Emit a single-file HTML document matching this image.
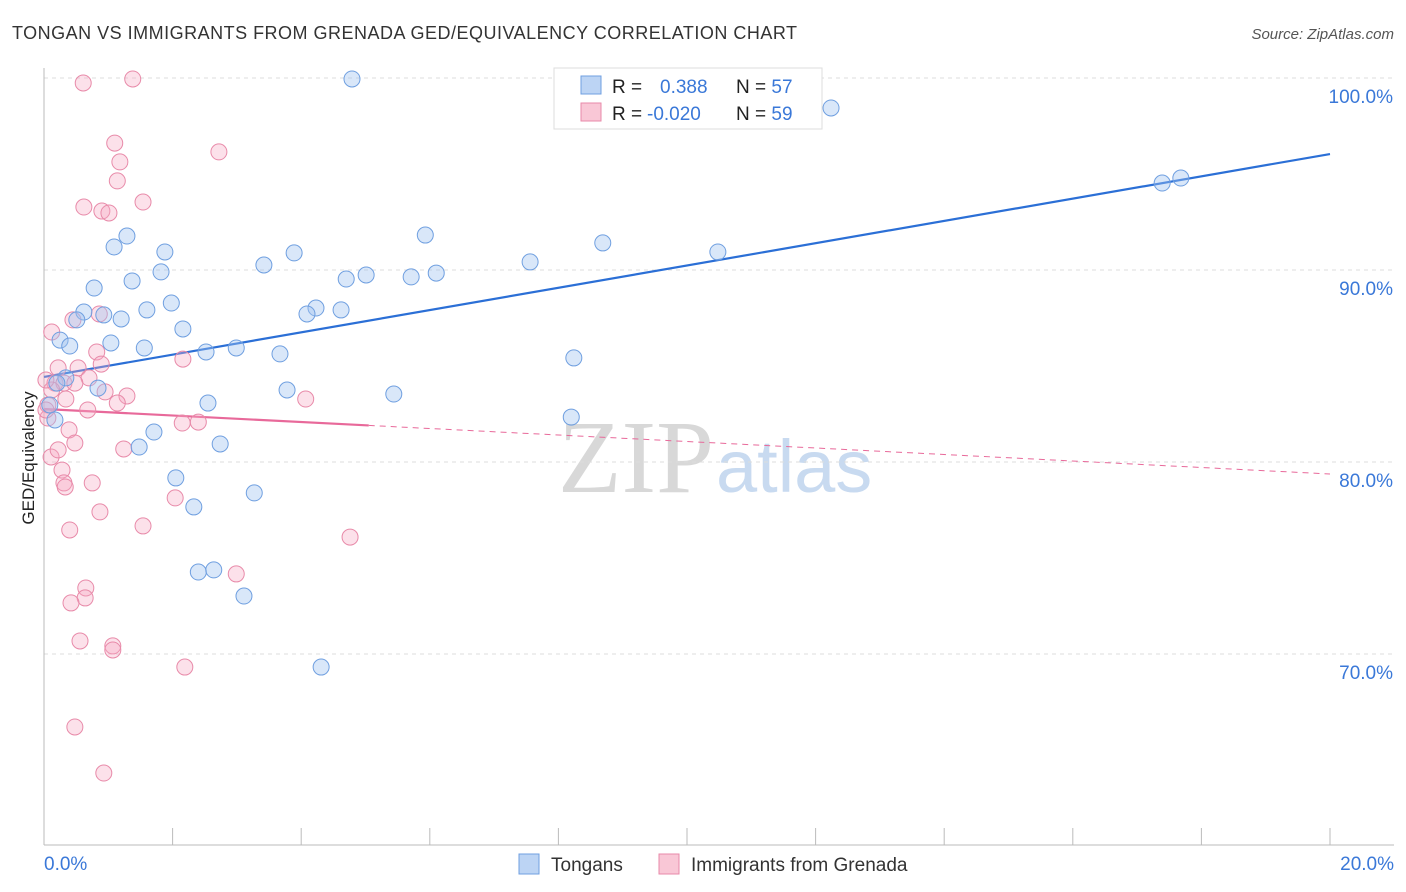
<!DOCTYPE html>
<html><head><meta charset="utf-8"><style>
body{margin:0;background:#fff;font-family:"Liberation Sans",sans-serif}
svg{display:block}
</style></head><body>
<svg width="1406" height="892" xmlns="http://www.w3.org/2000/svg">
<text x="12" y="39" font-size="18" fill="#333" textLength="785">TONGAN VS IMMIGRANTS FROM GRENADA GED/EQUIVALENCY CORRELATION CHART</text>
<text x="1394" y="39" font-size="15" fill="#555" font-style="italic" text-anchor="end">Source: ZipAtlas.com</text>
<text x="714" y="492" font-size="104" fill="#d8d8d8" text-anchor="end" font-family="Liberation Serif,serif">ZIP</text>
<text x="716" y="492" font-size="74" fill="#c8daf0">atlas</text>
<g id="grid"></g><g id="axes"></g><g id="lines"></g><g id="pts"></g>
<text transform="translate(34,458) rotate(-90)" font-size="17" fill="#222" text-anchor="middle">GED/Equivalency</text>
<g>
<rect x="554" y="68" width="268" height="61" fill="#fff" stroke="#ddd"/>
<rect x="581" y="76" width="20" height="18" fill="#bcd4f4" stroke="#6f9fe0"/>
<rect x="581" y="103" width="20" height="18" fill="#f9c7d6" stroke="#e88aa9"/>
<text x="612" y="93" font-size="19" fill="#222">R = <tspan fill="#3a78d8" x="660">0.388</tspan><tspan x="736" fill="#222">N = </tspan><tspan fill="#3a78d8">57</tspan></text>
<text x="612" y="120" font-size="19" fill="#222">R = <tspan fill="#3a78d8" x="647">-0.020</tspan><tspan x="736" fill="#222">N = </tspan><tspan fill="#3a78d8">59</tspan></text>
</g>
<g>
<rect x="519" y="854" width="20" height="20" fill="#bcd4f4" stroke="#6f9fe0"/>
<text x="551" y="871" font-size="19" fill="#333">Tongans</text>
<rect x="659" y="854" width="20" height="20" fill="#f9c7d6" stroke="#e88aa9"/>
<text x="691" y="871" font-size="19" fill="#333">Immigrants from Grenada</text>
</g>
</svg>
<script>
const xTicks=[0,2,4,6,8,10,12,14,16,18,20];
const yTicks=[100,90,80,70];
const yTickLabels=["100.0%","90.0%","80.0%","70.0%"];
const blueX=[4.79,12.24,17.39,17.68,1.29,1.09,1.88,3.89,5.93,8.69,10.48,7.56,3.42,1.82,1.37,4.70,5.01,5.71,6.10,0.78,1.98,1.60,4.23,4.09,4.62,0.62,0.93,1.20,0.51,2.16,1.04,0.25,0.40,1.56,2.52,2.99,3.67,8.24,0.34,0.20,0.84,3.78,5.44,2.55,0.09,0.17,8.20,1.71,1.48,2.74,2.05,3.27,2.33,2.40,2.64,3.11,4.31];
const blueY=[99.95,98.44,94.53,94.79,91.77,91.20,90.94,90.89,91.82,91.41,90.94,90.42,90.26,89.90,89.43,89.53,89.74,89.64,89.84,89.06,88.28,87.92,88.02,87.71,87.92,87.81,87.66,87.45,87.40,86.93,86.20,86.35,86.04,85.94,85.73,85.94,85.63,85.42,84.38,84.11,83.85,83.75,83.54,83.07,82.97,82.19,82.34,81.56,80.78,80.94,79.17,78.39,77.66,74.27,74.38,73.02,69.32];
const pinkX=[0.61,1.38,1.10,2.72,1.18,1.14,1.54,0.62,0.90,1.01,0.12,0.45,0.86,0.82,0.22,0.53,0.89,0.70,0.17,0.31,0.48,0.12,0.95,1.29,1.14,0.34,0.06,0.68,0.06,2.16,4.07,2.15,2.40,0.39,0.48,1.24,0.11,0.28,0.31,0.75,0.33,2.04,0.87,1.54,0.40,4.76,2.99,0.65,0.64,0.42,0.56,1.07,1.07,2.19,0.48,0.93,0.03,0.03,0.22];
const pinkY=[99.74,99.95,96.61,96.15,95.63,94.64,93.54,93.28,93.07,92.97,86.77,87.40,87.71,85.73,84.90,84.90,85.10,84.38,84.11,84.11,84.11,83.75,83.65,83.44,83.07,83.28,82.97,82.71,82.29,85.36,83.28,82.03,82.08,81.67,80.99,80.68,80.26,79.58,78.91,78.91,78.70,78.13,77.40,76.67,76.46,76.09,74.17,73.44,72.92,72.66,70.68,70.42,70.21,69.32,66.20,63.80,84.27,82.71,80.63];
const blueTrend=[84.43,96.04];
const pinkTrend=[82.76,79.375];
const pinkSolidEnd=5.05;
const NS="http://www.w3.org/2000/svg";
const X=v=>44+v/20*1286, Y=v=>78+(100-v)*19.2;
function mk(t,a,p){const e=document.createElementNS(NS,t);for(const k in a)e.setAttribute(k,a[k]);document.getElementById(p).appendChild(e);return e;}
yTicks.forEach((t,i)=>{
 const g=mk('line',{x1:44,x2:1394,y1:Y(t),y2:Y(t),stroke:'#ddd','stroke-dasharray':'4,4'},'grid');
 
 
 const l=mk('text',{x:1393,y:Y(t)+25,'font-size':19,fill:'#3a78d8','text-anchor':'end'},'axes');
 l.textContent=yTickLabels[i];
 
 
});
const ax=mk('line',{x1:44,x2:1394,y1:845,y2:845,stroke:'#bbb'},'axes');


const ay=mk('line',{x1:44,x2:44,y1:68,y2:845,stroke:'#bbb'},'axes');


xTicks.forEach(t=>{
 const k=mk('line',{x1:X(t),x2:X(t),y1:828,y2:845,stroke:'#bbb'},'axes');
 
 
});
[[0,"0.0%","start",44],[20,"20.0%","end",1394]].forEach(a=>{
 const l=mk('text',{x:a[3],y:870,'font-size':19,fill:'#3a78d8','text-anchor':a[2]},'axes');
 l.textContent=a[1];
 
 
});
const bl=mk('line',{x1:X(0),y1:Y(blueTrend[0]),x2:X(20),y2:Y(blueTrend[1]),stroke:'#2b6fd6','stroke-width':2.2},'lines');


const py=x=>pinkTrend[0]+(pinkTrend[1]-pinkTrend[0])*x/20;
const ps=mk('line',{x1:X(0),y1:Y(py(0)),x2:X(pinkSolidEnd),y2:Y(py(pinkSolidEnd)),stroke:'#e8699a','stroke-width':2.2},'lines');


const pd=mk('line',{x1:X(pinkSolidEnd),y1:Y(py(pinkSolidEnd)),x2:X(20),y2:Y(py(20)),stroke:'#e8699a','stroke-width':1,'stroke-dasharray':'6,5'},'lines');


pinkX.forEach((x,i)=>{
 const c=mk('circle',{cx:X(x),cy:Y(pinkY[i]),r:8,fill:'rgba(245,170,195,0.35)',stroke:'#e88aa9','stroke-width':1},'pts');
 
 
});
blueX.forEach((x,i)=>{
 const c=mk('circle',{cx:X(x),cy:Y(blueY[i]),r:8,fill:'rgba(160,195,240,0.4)',stroke:'#6f9fe0','stroke-width':1},'pts');
 
 
});
</script>
</body></html>
